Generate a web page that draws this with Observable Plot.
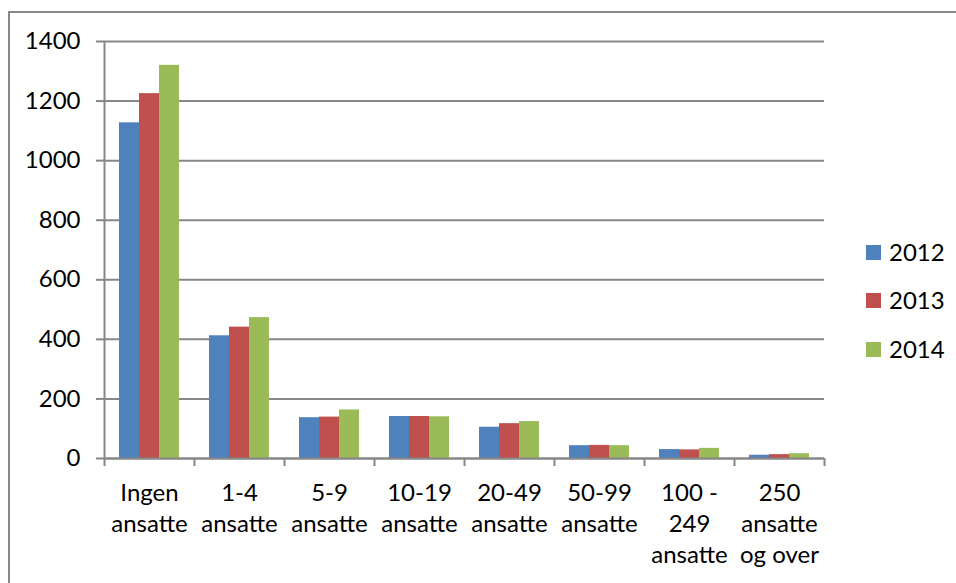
<!DOCTYPE html>
<html><head><meta charset="utf-8">
<script src="https://cdn.jsdelivr.net/npm/d3@7"></script>
<script src="https://cdn.jsdelivr.net/npm/@observablehq/plot@0.6"></script>
<style>
html,body{margin:0;padding:0;background:#fff;overflow:hidden;width:956px;height:583px;}
#frame{position:absolute;left:8px;top:11px;width:1000px;height:700px;border-left:2px solid #878787;border-top:2px solid #878787;}
#chart{position:absolute;left:0;top:0;}
#legend{position:absolute;left:0;top:0;font-family:Lato,sans-serif;font-size:24px;color:#000;}
.item{position:absolute;display:flex;align-items:center;white-space:nowrap;line-height:1;}
.sw{width:15px;height:15px;margin-right:8px;}
</style></head><body>
<div id="frame"></div><div id="chart"></div><div id="legend"></div>
<script>
const categories = ["Ingen ansatte","1-4 ansatte","5-9 ansatte","10-19 ansatte","20-49 ansatte","50-99 ansatte","100 - 249 ansatte","250 ansatte og over"];
const categoryLabels = ["Ingen\nansatte","1-4\nansatte","5-9\nansatte","10-19\nansatte","20-49\nansatte","50-99\nansatte","100 -\n249\nansatte","250\nansatte\nog over"];
const years = ["2012","2013","2014"];
const values2012 = [1127, 412, 137, 141, 105, 43, 30, 11];
const values2013 = [1225, 441, 139, 141, 117, 44, 29, 13];
const values2014 = [1320, 473, 163, 140, 124, 43, 34, 16];
const yTicks = [0, 200, 400, 600, 800, 1000, 1200, 1400];
const colors = ["#4F81BD", "#C0504D", "#9BBB59"];

const series = [values2012, values2013, values2014];
const data = categories.flatMap((c, ci) => years.map((yr, yi) => ({category: c, ci, year: yr, yi, value: series[yi][ci]})));
const n = categories.length;
const groupPad = 1/6, barW = 2/9;
const gridColor = "#878787";

const plot = Plot.plot({
  width: 956, height: 583,
  marginLeft: 104, marginRight: 132, marginTop: 41, marginBottom: 125,
  style: {fontFamily: "Lato, sans-serif", fontSize: "24px", color: "#000", background: "transparent", overflow: "visible"},
  x: {domain: [0, n]},
  y: {domain: [0, 1400]},
  color: {domain: years, range: colors},
  marks: [
    Plot.gridY(yTicks, {stroke: gridColor, strokeOpacity: 1, strokeWidth: 2}),
    Plot.rect(data, {
      x1: d => d.ci + groupPad + d.yi * barW,
      x2: d => d.ci + groupPad + (d.yi + 1) * barW,
      y1: 0, y2: "value", fill: "year"
    }),
    Plot.ruleX([0], {stroke: gridColor, strokeWidth: 2}),
    Plot.ruleY([0], {stroke: gridColor, strokeWidth: 2}),
    Plot.axisY({ticks: yTicks, tickSize: 8, tickPadding: 16, tickFormat: d => String(d), stroke: gridColor, strokeWidth: 2, fill: "#000", label: null}),
    Plot.axisX({ticks: d3.range(n + 1), tickSize: 8, tickFormat: () => "", stroke: gridColor, strokeWidth: 2, label: null}),
    Plot.axisX({ticks: d3.range(n).map(i => i + 0.5), tickSize: 0, tickPadding: 20, tickFormat: d => categoryLabels[Math.floor(d)], lineHeight: 1.3, fill: "#000", label: null})
  ]
});
document.getElementById("chart").appendChild(plot);

const color = plot.scale("color");
const legend = document.getElementById("legend");
const legendTops = [252, 300, 349];
color.domain.forEach((yr, i) => {
  const item = document.createElement("div");
  item.className = "item";
  item.style.left = "866px";
  item.style.top = (legendTops[i] - 12) + "px";
  item.style.height = "24px";
  const sw = document.createElement("span");
  sw.className = "sw";
  sw.style.background = color.range[i];
  const t = document.createElement("span");
  t.textContent = yr;
  item.appendChild(sw); item.appendChild(t);
  legend.appendChild(item);
});
</script>
</body></html>
